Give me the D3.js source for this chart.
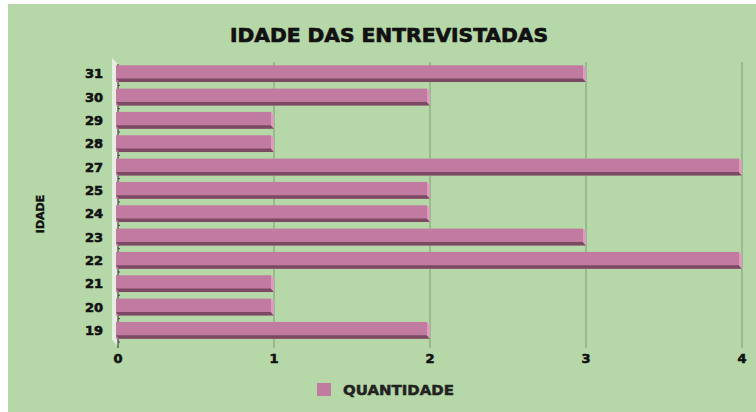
<!DOCTYPE html>
<html><head><meta charset="utf-8">
<script src="https://cdn.jsdelivr.net/npm/d3@7"></script>
<style>body{margin:0;background:#fff}svg{display:block}text{font-family:"DejaVu Sans",sans-serif;font-weight:bold}</style>
</head><body>
<script>
const categories = ["31","30","29","28","27","25","24","23","22","21","20","19"];
const values = [3,2,1,1,4,2,2,3,4,1,1,2];
const xTicks = [0,1,2,3,4];
const title = "IDADE DAS ENTREVISTADAS";
const yTitle = "IDADE";
const seriesName = "QUANTIDADE";

(function(){
const W=756,H=412;
const svg=d3.select("body").append("svg").attr("width",W).attr("height",H);
svg.append("rect").attr("x",8).attr("y",4).attr("width",W-8).attr("height",H-4).attr("fill","#b6d7a8");

const x=d3.scaleLinear().domain([0,4]).range([118,742]);
const y=d3.scaleBand().domain(categories).range([62,342]).paddingInner(0.28).paddingOuter(0.14);
const pTop=62,pBottom=345;

svg.append("path").attr("d",`M${x(0)-6},${pTop-4} L${x(0)},${pTop+2} L${x(0)},${pBottom+1} L${x(0)-6},${pBottom-5} Z`).attr("fill","#e6eee2");

svg.append("g").selectAll("line").data(xTicks.slice(1)).join("line")
 .attr("x1",d=>x(d)).attr("x2",d=>x(d)).attr("y1",pTop).attr("y2",pBottom+3)
 .attr("stroke","#8ea883").attr("stroke-width",1.3);

svg.append("line").attr("x1",x(0)).attr("x2",x(0)).attr("y1",pTop+2).attr("y2",pBottom+3).attr("stroke","#444").attr("stroke-width",1.2);
const step=y.step();
const bh=y.bandwidth();
svg.append("g").selectAll("line").data(categories).join("line")
 .attr("x1",x(0)).attr("x2",x(0)+2).attr("y1",d=>y(d)+bh+(step-bh)/2).attr("y2",d=>y(d)+bh+(step-bh)/2)
 .attr("stroke","#444");

const bars=svg.append("g").selectAll("g").data(categories.map((c,i)=>({c,v:values[i]}))).join("g");
bars.append("rect").attr("x",x(0)-2).attr("y",d=>y(d.c)).attr("width",d=>x(d.v)-x(0)-1).attr("height",bh).attr("fill","#c27ba0");
bars.append("path").attr("d",d=>{const y0=y(d.c)+bh-3.5,x0=x(0)-2,x1=x(d.v)-3;return `M${x0},${y0} L${x1},${y0} L${x1+3},${y0+3.5} L${x0+3},${y0+3.5} Z`;}).attr("fill","#7b4962");
bars.append("path").attr("d",d=>{const y0=y(d.c),x1=x(d.v)-3;return `M${x1},${y0} L${x1+3},${y0+3} L${x1+3},${y0+bh} L${x1},${y0+bh-3.5} Z`;}).attr("fill","#db9cc0");

svg.append("g").selectAll("text").data(categories).join("text")
 .attr("x",103).attr("y",d=>y(d)+bh/2).attr("dy","0.36em").attr("text-anchor","end")
 .attr("font-size",13).attr("fill","#111").attr("stroke","#111").attr("stroke-width",0.6).text(d=>d);
svg.append("g").selectAll("text").data(xTicks).join("text")
 .attr("x",d=>x(d)).attr("y",363).attr("text-anchor","middle")
 .attr("font-size",13).attr("fill","#111").attr("stroke","#111").attr("stroke-width",0.6).text(d=>d);

svg.append("text").attr("x",389).attr("y",42).attr("text-anchor","middle").attr("font-size",19)
 .attr("fill","#111").attr("stroke","#111").attr("stroke-width",0.7).attr("textLength",318).attr("lengthAdjust","spacingAndGlyphs").text(title);
svg.append("text").attr("transform","translate(44,214) rotate(-90)").attr("text-anchor","middle").attr("font-size",11)
 .attr("fill","#111").attr("stroke","#111").attr("stroke-width",0.4).text(yTitle);

svg.append("rect").attr("x",317).attr("y",383).attr("width",14).attr("height",13).attr("fill","#c27ba0");
svg.append("text").attr("x",343).attr("y",395).attr("font-size",13.5).attr("fill","#222").attr("stroke","#222").attr("stroke-width",0.45).attr("textLength",111).attr("lengthAdjust","spacingAndGlyphs").text(seriesName);
})();
</script>
</body></html>
